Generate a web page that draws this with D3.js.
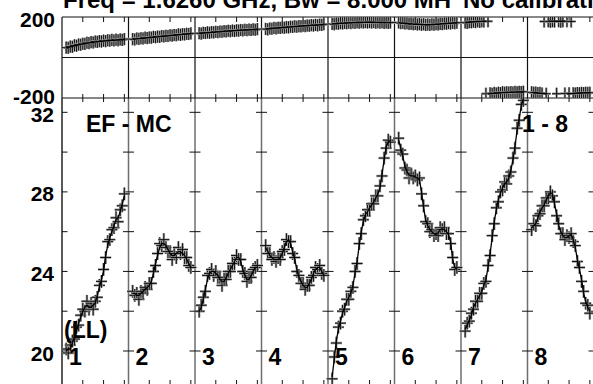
<!DOCTYPE html>
<html>
<head>
<meta charset="utf-8">
<script src="https://cdn.jsdelivr.net/npm/d3@7"></script>
<style>
  body { margin: 0; background: #fff; }
  svg { display: block; }
  text { font-family: "Liberation Sans", Arial, sans-serif; font-weight: bold; fill: #000; }
</style>
</head>
<body>
<div id="possm"></div>
<script>
// channel numbers plotted in every IF panel
var channels = [2,3,4,5,6,7,8,9,10,11,12,13,14,15,16,17,18,19,20,21,22,23,24,25,26,27,28,29,30];
var panelNames = ["1","2","3","4","5","6","7","8"];
var ampTicks = [20,22,24,26,28,30,32];
var ampLabels = [20,24,28,32];
var phaseLabels = [-200,200];
var chanTicks = [10,20,30];

// amplitude, measured points (per IF)
var ampPts1 = [20.1,19.9,20.3,20.5,20.6,21.2,21.3,21.8,22.1,22.0,22.5,22.1,22.4,22.1,22.5,22.7,23.3,23.5,24.1,24.7,25.5,25.6,26.1,26.2,26.7,26.5,27.1,27.3,27.9];
var ampPts2 = [23.0,22.8,22.9,22.6,23.0,22.9,23.2,23.1,23.4,23.4,24.0,24.3,24.9,25.4,25.3,25.6,25.2,25.0,25.0,24.6,24.9,24.7,25.2,24.9,25.1,24.7,24.7,24.3,24.2];
var ampPts3 = [22.0,22.3,22.7,23.0,23.8,23.9,24.1,23.8,24.0,23.7,23.7,23.3,23.6,23.6,24.0,24.0,24.4,24.4,24.8,24.6,24.6,24.0,23.9,23.5,23.7,23.7,24.1,24.2,24.3];
var ampPts4 = [25.3,24.9,24.9,24.6,24.7,24.5,24.7,24.6,25.0,25.1,25.6,25.5,25.5,24.9,24.7,24.0,23.8,23.4,23.4,23.1,23.3,23.3,23.7,23.8,24.2,24.1,24.3,23.9,23.8];
var ampPts5 = [18.6,19.7,20.4,21.2,21.4,22.0,22.1,22.6,22.6,23.0,23.2,24.0,24.4,25.4,25.9,26.6,26.8,27.1,27.1,27.4,27.4,27.8,27.8,28.3,28.8,29.7,30.2,30.6,30.5];
var ampPts6 = [30.7,30.1,29.9,29.2,29.1,28.7,28.9,28.7,28.8,28.6,28.7,27.9,27.3,26.5,26.4,26.0,26.1,25.8,25.9,25.8,26.2,26.1,26.2,25.9,25.9,25.4,24.7,24.1,24.2];
var ampPts7 = [21.0,21.4,21.5,21.9,22.1,22.5,22.5,22.9,22.9,23.4,23.5,24.3,24.8,25.8,26.4,27.2,27.5,28.0,28.1,28.5,28.4,28.8,29.0,29.7,30.2,31.2,31.6,32.4,32.6];
var ampPts8 = [26.1,26.4,26.3,26.8,26.9,27.3,27.3,27.7,27.7,28.0,27.8,27.5,26.8,26.4,25.9,25.9,25.6,25.8,25.7,25.9,25.5,25.3,24.5,24.2,23.5,23.0,22.4,22.3,21.9];

// amplitude, model line (per IF)
var ampFit1 = [20.0,20.1,20.1,20.4,20.7,21.0,21.4,21.7,22.0,22.2,22.3,22.2,22.2,22.3,22.4,22.8,23.2,23.6,24.0,24.8,25.3,25.7,26.0,26.3,26.6,26.7,27.0,27.4,27.8];
var ampFit2 = [22.9,22.9,22.8,22.8,22.9,23.0,23.1,23.2,23.3,23.5,23.9,24.4,24.8,25.2,25.4,25.4,25.3,25.1,24.9,24.8,24.8,24.9,25.0,25.0,24.9,24.8,24.6,24.4,24.2];
var ampFit3 = [22.0,22.2,22.6,23.1,23.6,23.9,24.0,24.0,23.9,23.8,23.6,23.5,23.5,23.7,23.9,24.1,24.3,24.5,24.7,24.7,24.5,24.1,23.8,23.6,23.6,23.8,24.0,24.2,24.2];
var ampFit4 = [25.2,25.0,24.8,24.7,24.6,24.6,24.6,24.7,24.9,25.2,25.5,25.6,25.4,25.0,24.6,24.1,23.7,23.5,23.3,23.2,23.2,23.4,23.6,23.9,24.1,24.2,24.2,24.0,23.8];
var ampFit5 = [18.7,19.6,20.5,21.1,21.5,21.9,22.2,22.5,22.7,22.9,23.3,23.9,24.5,25.3,26.0,26.5,26.85,27.0,27.2,27.35,27.5,27.7,27.9,28.2,28.9,29.6,30.3,30.5,30.6];
var ampFit6 = [30.6,30.2,29.8,29.3,29.0,28.85,28.8,28.8,28.75,28.7,28.6,28.0,27.2,26.6,26.3,26.1,26.0,25.9,25.85,25.95,26.1,26.15,26.1,26.0,25.85,25.5,24.6,24.2,24.1];
var ampFit7 = [21.1,21.3,21.55,21.8,22.2,22.4,22.6,22.8,23.0,23.3,23.6,24.2,24.9,25.7,26.5,27.1,27.6,27.95,28.2,28.4,28.5,28.7,29.1,29.6,30.3,31.1,31.7,32.3,32.7];
var ampFit8 = [26.2,26.3,26.4,26.7,27.0,27.2,27.35,27.6,27.8,27.95,27.9,27.4,26.9,26.3,26.0,25.8,25.7,25.7,25.8,25.85,25.6,25.2,24.6,24.1,23.6,22.9,22.5,22.2,22.0];

// phase (deg), measured points (per IF)
var phPts1 = [49,48,54,53,60,58,64,63,68,67,73,71,76,74,79,77,81,79,83,81,85,83,87,84,88,85,89,87,91];
var phPts2 = [91,89,94,92,95,94,98,96,99,98,102,100,103,102,106,104,107,106,110,108,111,110,114,112,115,114,117,116,119];
var phPts3 = [120,118,122,121,124,122,125,124,127,125,128,127,130,129,132,130,133,131,134,133,136,134,137,135,138,136,139,137,140];
var phPts4 = [141,139,143,142,146,144,147,146,149,147,150,149,152,151,154,152,155,154,157,155,158,157,160,158,161,159,162,161,164];
var phPts5 = [166,164,168,167,170,168,171,169,172,170,173,171,174,172,175,173,175,173,175,173,175,172,174,172,174,171,173,171,173];
var phPts6 = [173,170,171,168,169,166,167,164,166,163,165,162,164,161,163,161,164,162,165,163,166,165,168,167,170,168,171,169,172];
var phPts7 = [173,171,175,174,177,175,179,176,179,178,-179,179,-177,-179,-175,-178,-174,-176,-172,-174,-172,-173,-171,-173,-170,-172,-170,-171,-169];
var phPts8 = [-172,-174,-173,-176,-175,-178,178,-179,179,177,179,178,-179,179,177,179,-178,179,-177,178,-177,-178,-176,-177,-175,-176,-174,-175,-174];

// phase (deg), model line (per IF, unwrapped)
var phFit1 = [47,50,53,55.5,58,60.5,63,65,67,69,71,72.5,74,75.5,77,78,79,80,81,82,83,84,85,85.5,86,86.5,87.5,88,89];
var phFit2 = [90,91,92,93,94,95,96,97,98,99,100,101,102,103,104,105,106,107,108,109,110,111,112,113,114,115,116,117,118];
var phFit3 = [119,120,121,122,122.5,123,124,125,126,126.5,127,128,129,130,130.5,131,132,132.5,133,134,134.5,135,135.5,136,136.5,137,137.5,138,138.5];
var phFit4 = [140,141,142,143,144,145,146,147,148,148.5,149,150,151,152,152.5,153,154,155,155.5,156,157,158,158.5,159,159.5,160,161,162,163];
var phFit5 = [165,166,167,168,168.5,169,170,170.5,171,171.5,172,172,172.5,173,173,173.5,173.5,174,174,174,174,173.5,173.5,173,173,172.5,172.5,172,172];
var phFit6 = [172,171,170,169,168,167,166,165,164.5,164,163.5,163,162.5,162,162,162,162.5,163,163.5,164,165,166,167,168,168.5,169,170,170.5,171];
var phFit7 = [172,173,174,175,176,177,177.5,178,178.5,179,179.5,180.5,181.5,182.5,183.5,184.5,185,186,186.5,187,187.5,188,188.5,189,189,189.5,189.5,190,190];
var phFit8 = [188,187,186,185,184,183,182,181,180,179.5,179,179,179,179,179,179.5,180,180.5,181,181.5,182,183,184,184.5,185,185.5,186,186,186];

var ampErr = 0.32;   // amplitude error bar half-length
var phErr = 30;      // phase error bar half-length (deg)

var ampPts = [ampPts1,ampPts2,ampPts3,ampPts4,ampPts5,ampPts6,ampPts7,ampPts8];
var ampFit = [ampFit1,ampFit2,ampFit3,ampFit4,ampFit5,ampFit6,ampFit7,ampFit8];
var phPts = [phPts1,phPts2,phPts3,phPts4,phPts5,phPts6,phPts7,phPts8];
var phFit = [phFit1,phFit2,phFit3,phFit4,phFit5,phFit6,phFit7,phFit8];

function main() {
  var width = 593, height = 384;
  var left = 62, panelW = 66.5, nChan = 32;
  var phTop = 17, phBot = 98, ampBot = 386;

  var svg = d3.select("#possm").append("svg")
    .attr("width", width).attr("height", height);

  // x: one scale across all IF panels, 32 channels per panel
  var x = d3.scaleLinear().domain([0, nChan * panelNames.length])
    .range([left, left + panelW * panelNames.length]);
  var yPh = d3.scaleLinear().domain([-200, 200]).range([phBot, phTop]);
  var yAmp = d3.scaleLinear().domain([18.24, 32.72]).range([ampBot, phBot]);

  var defs = svg.append("defs");
  defs.append("clipPath").attr("id", "clipAmp").append("rect")
    .attr("x", left).attr("y", phBot).attr("width", width - left).attr("height", ampBot - phBot);
  defs.append("clipPath").attr("id", "clipPh").append("rect")
    .attr("x", left).attr("y", phTop).attr("width", width - left).attr("height", phBot - phTop);

  // title (top is cut by the window edge, as in the plot)
  svg.append("text").attr("x", 63).attr("y", 8).attr("font-size", "24px")
    .text("Freq = 1.6260 GHz, Bw = 8.000 MH");
  svg.append("text").attr("x", 463).attr("y", 8).attr("font-size", "24px")
    .text("No calibration");

  // panel dividers
  var bounds = d3.range(panelNames.length + 1);
  svg.append("g").selectAll("line").data(bounds).enter().append("line")
    .attr("x1", function(k){ return x(k * nChan); })
    .attr("x2", function(k){ return x(k * nChan); })
    .attr("y1", phTop).attr("y2", phBot)
    .attr("stroke", "#111").attr("stroke-width", 1.2);
  svg.append("g").selectAll("line").data(bounds).enter().append("line")
    .attr("x1", function(k){ return x(k * nChan); })
    .attr("x2", function(k){ return x(k * nChan); })
    .attr("y1", phBot).attr("y2", ampBot)
    .attr("stroke", function(k){ return k === 0 ? "#222" : "#6e6e6e"; })
    .attr("stroke-width", 1.5);

  // horizontal frame lines
  [phTop, yPh(0), phBot, ampBot].forEach(function(yy){
    svg.append("line").attr("x1", left).attr("x2", width).attr("y1", yy).attr("y2", yy)
      .attr("stroke", "#111").attr("stroke-width", 1.2);
  });

  // channel ticks inside each panel
  var chanTickData = [];
  panelNames.forEach(function(p, i){
    chanTicks.forEach(function(c){ chanTickData.push(i * nChan + c); });
  });
  var tg = svg.append("g").attr("stroke", "#111").attr("stroke-width", 1);
  chanTickData.forEach(function(c){
    tg.append("line").attr("x1", x(c)).attr("x2", x(c)).attr("y1", phTop).attr("y2", phTop + 5);
    tg.append("line").attr("x1", x(c)).attr("x2", x(c)).attr("y1", phBot - 4).attr("y2", phBot + 4);
    tg.append("line").attr("x1", x(c)).attr("x2", x(c)).attr("y1", ampBot - 6).attr("y2", ampBot);
  });

  // amplitude ticks on every divider
  bounds.forEach(function(k){
    ampTicks.forEach(function(v){
      var xx = x(k * nChan);
      tg.append("line").attr("x1", k === 0 ? xx : xx - 5.5).attr("x2", xx + 5.5)
        .attr("y1", yAmp(v)).attr("y2", yAmp(v));
    });
  });

  // axis labels
  var ampAxis = svg.append("g").attr("transform", "translate(" + left + ",0)")
    .call(d3.axisLeft(yAmp).tickValues(ampLabels).tickSize(0).tickPadding(8));
  ampAxis.select(".domain").remove();
  ampAxis.attr("font-family", null);
  ampAxis.selectAll("text").attr("font-size", "21px")
    .attr("dy", "0.43em").style("fill", "#000");

  var phAxis = svg.append("g").attr("transform", "translate(" + left + ",0)")
    .call(d3.axisLeft(yPh).tickValues(phaseLabels).tickSize(0).tickPadding(7)
      .tickFormat(function(d){ return String(d); }));
  phAxis.select(".domain").remove();
  phAxis.attr("font-family", null);
  phAxis.selectAll("text").attr("font-size", "21px")
    .attr("dy", function(d){ return d > 0 ? 9.7 : 5; }).style("fill", "#000");

  var gPh = svg.append("g").attr("clip-path", "url(#clipPh)");
  var gAmp = svg.append("g").attr("clip-path", "url(#clipAmp)");

  function wrap(p){ var w = ((p + 180) % 360 + 360) % 360 - 180; return w === -180 ? 180 : w; }

  // a cross drawn twice: a grey blur under a dark stroke
  function cross(g, cx, cy, y0, y1, hw){
    var d = "M" + (cx - hw) + "," + cy + "H" + (cx + hw) + "M" + cx + "," + y0 + "V" + y1;
    g.append("path").attr("d", d).attr("stroke", "#9a9a9a").attr("stroke-width", 2.4).attr("fill", "none");
    g.append("path").attr("d", d).attr("stroke", "#111").attr("stroke-width", 1).attr("fill", "none");
  }

  panelNames.forEach(function(name, i){
    // phase crosses
    phPts[i].forEach(function(p, j){
      var cx = x(i * nChan + channels[j]);
      cross(gPh, cx, yPh(p), yPh(p - phErr), yPh(p + phErr), 4.5);
    });
    // phase model, broken where it wraps
    var segs = [], cur = [];
    phFit[i].forEach(function(p, j){
      var w = wrap(p);
      if (cur.length && Math.abs(w - cur[cur.length - 1][1]) > 180) { segs.push(cur); cur = []; }
      cur.push([i * nChan + channels[j], w]);
    });
    segs.push(cur);
    segs.forEach(function(s){
      gPh.append("path").datum(s)
        .attr("d", d3.line().x(function(d){ return x(d[0]); }).y(function(d){ return yPh(d[1]); }))
        .attr("stroke", "#000").attr("stroke-width", 1.4).attr("fill", "none");
    });

    // amplitude crosses
    ampPts[i].forEach(function(a, j){
      var cx = x(i * nChan + channels[j]);
      cross(gAmp, cx, yAmp(a), yAmp(a - ampErr), yAmp(a + ampErr), 5.5);
    });
    // amplitude model
    gAmp.append("path").datum(ampFit[i])
      .attr("d", d3.line()
        .x(function(d, j){ return x(i * nChan + channels[j]); })
        .y(function(d){ return yAmp(d); }))
      .attr("stroke", "#000").attr("stroke-width", 1.3).attr("fill", "none");

    // IF number
    svg.append("text").attr("x", x(i * nChan) + 7).attr("y", 365)
      .attr("font-size", "23px").text(name);
  });

  // baseline, polarisation and IF range labels
  svg.append("text").attr("x", 86).attr("y", 131.5).attr("font-size", "23px").text("EF - MC");
  svg.append("text").attr("x", 522).attr("y", 131.5).attr("font-size", "23px").text("1 - 8");
  svg.append("text").attr("x", 64).attr("y", 338).attr("font-size", "23px").text("(LL)");
}
main();
</script>
</body>
</html>
